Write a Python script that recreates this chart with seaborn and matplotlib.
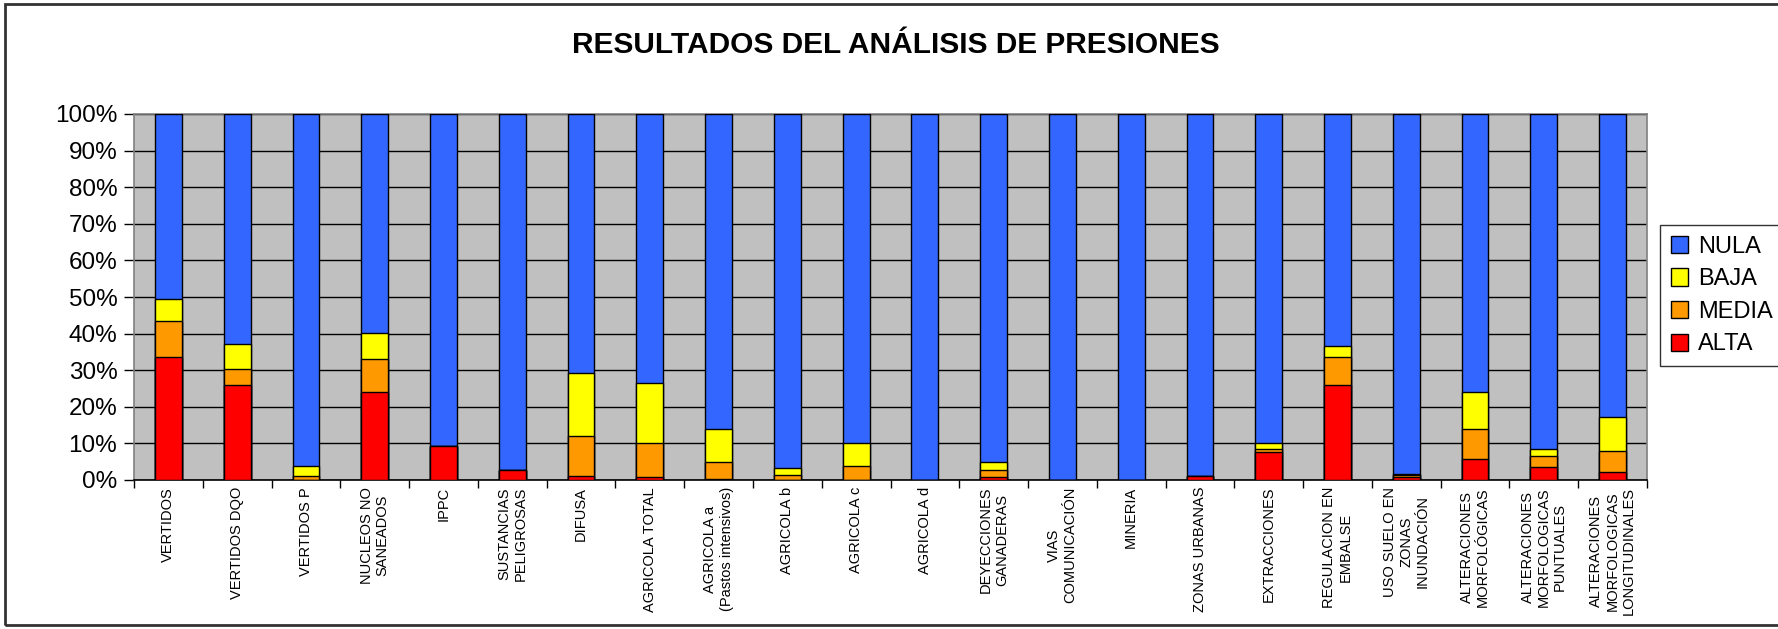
import matplotlib
matplotlib.use("Agg")
import matplotlib.pyplot as plt
from matplotlib.patches import Patch, Rectangle
from matplotlib.ticker import FixedLocator, FuncFormatter
import numpy as np
import pandas as pd
import seaborn as sns

# Pressure categories (x axis)
categories = [
    "VERTIDOS", "VERTIDOS DQO", "VERTIDOS P", "NUCLEOS NO\nSANEADOS", "IPPC",
    "SUSTANCIAS\nPELIGROSAS", "DIFUSA", "AGRICOLA TOTAL",
    "AGRICOLA a\n(Pastos intensivos)", "AGRICOLA b", "AGRICOLA c", "AGRICOLA d",
    "DEYECCIONES\nGANADERAS", "VIAS\nCOMUNICACIÓN", "MINERIA", "ZONAS URBANAS",
    "EXTRACCIONES", "REGULACION EN\nEMBALSE", "USO SUELO EN\nZONAS\nINUNDACIÓN",
    "ALTERACIONES\nMORFOLÓGICAS", "ALTERACIONES\nMORFOLOGICAS\nPUNTUALES",
    "ALTERACIONES\nMORFOLOGICAS\nLONGITUDINALES",
]

# Share of water bodies (%) per pressure level
alta  = [33.6, 25.9, 0.0, 24.0, 9.4, 2.6, 1.0, 0.7, 0.4, 0.0, 0.0, 0.0,
         0.7, 0.0, 0.0, 1.1, 7.7, 25.9, 0.8, 5.8, 3.5, 2.3]
media = [9.8, 4.5, 1.0, 9.1, 0.0, 0.0, 11.0, 9.4, 4.4, 1.4, 3.8, 0.0,
         1.9, 0.0, 0.0, 0.0, 0.8, 7.8, 0.5, 8.1, 3.0, 5.5]
baja  = [6.1, 6.8, 2.9, 7.1, 0.0, 0.0, 17.1, 16.4, 9.1, 1.8, 6.3, 0.0,
         2.2, 0.0, 0.0, 0.0, 1.7, 2.8, 0.3, 10.1, 1.9, 9.4]
nula  = [50.5, 62.8, 96.1, 59.8, 90.6, 97.4, 70.9, 73.5, 86.1, 96.8, 89.9, 100.0,
         95.2, 100.0, 100.0, 98.9, 89.8, 63.5, 98.4, 76.0, 91.6, 82.8]

levels = ["NULA", "BAJA", "MEDIA", "ALTA"]
colors = {"NULA": "#3366FF", "BAJA": "#FFFF00", "MEDIA": "#FF9900", "ALTA": "#FF0000"}

df = pd.DataFrame({"categoria": categories, "ALTA": alta, "MEDIA": media,
                   "BAJA": baja, "NULA": nula})
# cumulative tops, bottom level first
df["top_ALTA"] = df["ALTA"]
df["top_MEDIA"] = df["top_ALTA"] + df["MEDIA"]
df["top_BAJA"] = df["top_MEDIA"] + df["BAJA"]
df["top_NULA"] = df["top_BAJA"] + df["NULA"]

plt.rcParams["font.family"] = ["Liberation Sans", "DejaVu Sans"]

fig = plt.figure(figsize=(17.78, 6.29), dpi=100)
fig.patch.set_facecolor("white")
ax = fig.add_axes([134 / 1778, 1 - 480 / 629, (1647 - 134) / 1778, (480 - 114) / 629])
ax.set_facecolor("#C0C0C0")

# Stacked bars: draw the tallest cumulative level first, then overlay the lower ones
for lvl in levels:
    sns.barplot(data=df, x="categoria", y=f"top_{lvl}", order=categories,
                color=colors[lvl], saturation=1, width=0.39,
                edgecolor="black", linewidth=1.0, ax=ax, zorder=3)

ax.set_xlim(-0.5, len(categories) - 0.5)
ax.set_ylim(0, 100)
ax.set_yticks(np.arange(0, 101, 10))
ax.yaxis.set_major_formatter(FuncFormatter(lambda v, p: f"{v:.0f}%"))
ax.yaxis.grid(True, color="black", linewidth=1.0, zorder=1)
ax.set_axisbelow(True)
ax.tick_params(axis="y", labelsize=17.5, length=7, width=1.0, color="black", pad=5)

# Category labels at centres, tick marks at the boundaries between categories
ax.set_xticks(range(len(categories)))
ax.set_xticklabels(categories, rotation=90, fontsize=10.5, ha="center", va="top",
                   multialignment="center")
ax.tick_params(axis="x", length=0, pad=5)
ax.xaxis.set_minor_locator(FixedLocator(np.arange(-0.5, len(categories), 1.0)))
ax.tick_params(axis="x", which="minor", length=6, width=1.0, color="black")

ax.set_xlabel("")
ax.set_ylabel("")
for side in ["top", "right", "left"]:
    ax.spines[side].set_color("#808080")
    ax.spines[side].set_linewidth(1.2)
ax.spines["bottom"].set_color("black")
ax.spines["bottom"].set_linewidth(1.2)

fig.text(0.504, 1 - 45 / 629, "RESULTADOS DEL ANÁLISIS DE PRESIONES",
         ha="center", va="center", fontsize=21.5, fontweight="bold")

handles = [Patch(facecolor=colors[l], edgecolor="black", linewidth=1.0, label=l)
           for l in levels]
leg = fig.legend(handles=handles, loc="upper left",
                 bbox_to_anchor=(1660 / 1778, 1 - 225 / 629),
                 fontsize=17, frameon=True, fancybox=False, shadow=False,
                 handlelength=0.75, handleheight=0.75, handletextpad=0.4,
                 labelspacing=0.45, borderpad=0.45, borderaxespad=0)
leg.get_frame().set_edgecolor("black")
leg.get_frame().set_linewidth(1.0)

# Outer chart frame
fig.patches.append(Rectangle((5 / 1778, 4 / 629), 1.0, 1 - 8 / 629,
                             transform=fig.transFigure, fill=False,
                             edgecolor="#333333", linewidth=2.0, zorder=0))

fig.savefig("out.png", dpi=100)
